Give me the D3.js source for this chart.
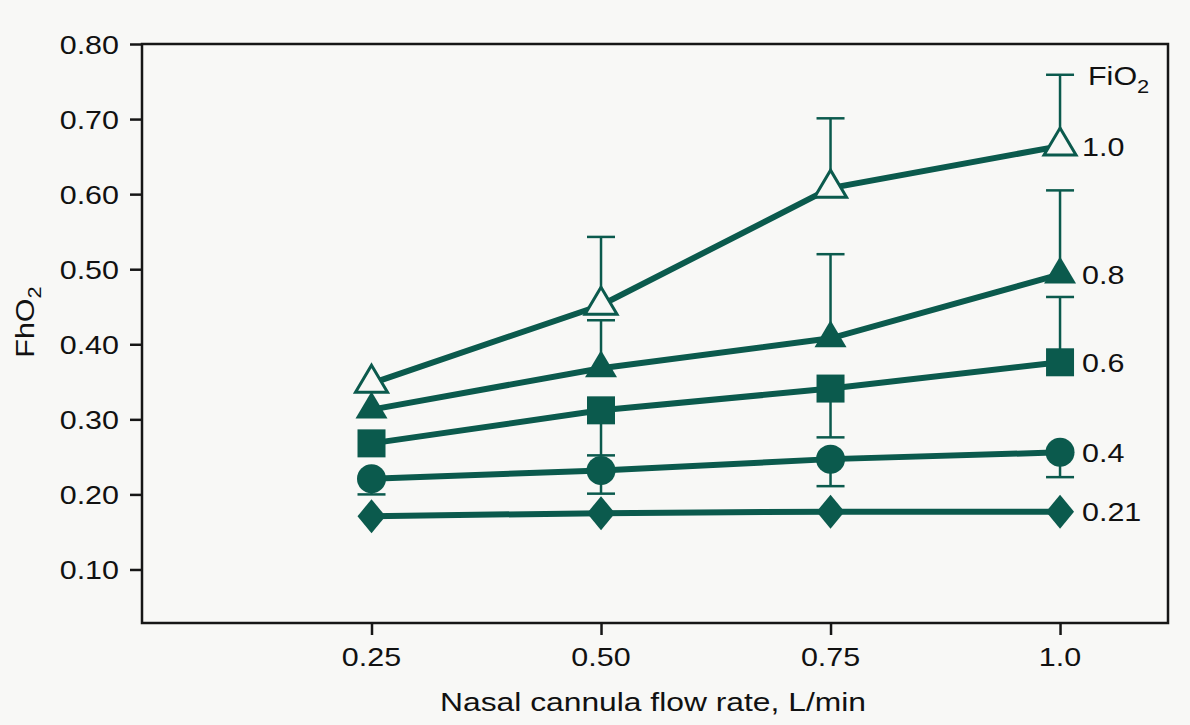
<!DOCTYPE html>
<html><head><meta charset="utf-8">
<script src="https://cdn.jsdelivr.net/npm/d3@7"></script>
<style>
html,body{margin:0;padding:0;background:#f8f8f6;}
svg{display:block;}
text{font-family:"Liberation Sans",Arial,Helvetica,sans-serif;fill:#111;}
</style></head>
<body>
<script>
const flowRates = [0.25, 0.50, 0.75, 1.0];
const xTickLabels = ["0.25", "0.50", "0.75", "1.0"];
const yTicks = [0.10, 0.20, 0.30, 0.40, 0.50, 0.60, 0.70, 0.80];
const seriesNames = ["1.0", "0.8", "0.6", "0.4", "0.21"];
const fio2_100 = [0.348, 0.452, 0.608, 0.664];
const fio2_80 = [0.313, 0.368, 0.408, 0.493];
const fio2_60 = [0.268, 0.312, 0.341, 0.376];
const fio2_40 = [0.221, 0.232, 0.247, 0.256];
const fio2_21 = [0.171, 0.175, 0.177, 0.177];
// error bar ends (null = none)
const err_100 = [null, 0.543, 0.701, 0.759];
const err_80 = [null, 0.432, 0.520, 0.605];
const err_60 = [null, 0.252, 0.276, 0.463];
const err_40 = [0.200, 0.201, 0.211, 0.223];
const err_21 = [null, null, null, null];

const W = 1190, H = 725;
const color = "#0b5a4d";
const FS = 26.5;
const svg = d3.select("body").append("svg").attr("width", W).attr("height", H);

const x = d3.scaleLinear().domain([0, 1.1176]).range([142, 1168]);
const y = d3.scaleLinear().domain([0.0287, 0.80]).range([623, 44]);

function txt(g, str, tx, ty, anchor, sx) {
  return g.append("text")
    .attr("transform", `translate(${tx},${ty}) scale(${sx || 1.15},1)`)
    .attr("text-anchor", anchor || "start")
    .style("font-size", FS + "px")
    .text(str);
}

// frame
const axisColor = "#161616";
svg.append("rect").attr("x", x(0)).attr("y", y(0.80))
  .attr("width", x(1.1176) - x(0)).attr("height", y(0.0287) - y(0.80))
  .attr("fill", "none").attr("stroke", axisColor).attr("stroke-width", 2.5);

// y axis
const yAxis = d3.axisLeft(y).tickValues(yTicks).tickSize(12).tickFormat(d3.format(".2f"));
const gy = svg.append("g").attr("transform", `translate(${x(0)},0)`).call(yAxis);
gy.select(".domain").remove();
gy.selectAll(".tick line").attr("stroke", axisColor).attr("stroke-width", 2.5);
gy.selectAll(".tick text").remove();
yTicks.forEach(v => {
  txt(svg, d3.format(".2f")(v), 119, y(v) + 9.5, "end");
});

// x axis
const xAxis = d3.axisBottom(x).tickValues(flowRates).tickSize(12).tickFormat("");
const gx = svg.append("g").attr("transform", `translate(0,${y(0.0287)})`).call(xAxis);
gx.select(".domain").remove();
gx.selectAll(".tick line").attr("stroke", axisColor).attr("stroke-width", 2.5);
flowRates.forEach((v, i) => {
  txt(svg, xTickLabels[i], x(v), 666, "middle");
});

// axis titles
txt(svg, "Nasal cannula flow rate, L/min", 653, 711, "middle", 1.2);
const yt = svg.append("text")
  .attr("transform", `translate(34,322) rotate(-90) scale(1.15,1)`)
  .attr("text-anchor", "middle")
  .style("font-size", FS + "px");
yt.append("tspan").text("FhO");
yt.append("tspan").attr("dy", 7).style("font-size", "19px").text("2");

// data
const series = [
  {name: seriesNames[0], vals: fio2_100, err: err_100, shape: "tri", open: true},
  {name: seriesNames[1], vals: fio2_80, err: err_80, shape: "tri", open: false},
  {name: seriesNames[2], vals: fio2_60, err: err_60, shape: "sq", open: false},
  {name: seriesNames[3], vals: fio2_40, err: err_40, shape: "circ", open: false},
  {name: seriesNames[4], vals: fio2_21, err: err_21, shape: "dia", open: false}
];

const line = d3.line().x((d, i) => x(flowRates[i])).y(d => y(d));

const triType = {draw(ctx, s) { ctx.moveTo(0, -17); ctx.lineTo(16, 10); ctx.lineTo(-16, 10); ctx.closePath(); }};
const sqType = {draw(ctx, s) { ctx.rect(-14, -14, 28, 28); }};
const circType = {draw(ctx, s) { ctx.arc(0, 0, 14.5, 0, 2 * Math.PI); }};
const diaType = {draw(ctx, s) { ctx.moveTo(0, -17); ctx.lineTo(14, 0); ctx.lineTo(0, 17); ctx.lineTo(-14, 0); ctx.closePath(); }};
const types = {tri: triType, sq: sqType, circ: circType, dia: diaType};

// error bars first
series.forEach(s => {
  s.err.forEach((e, i) => {
    if (e === null) return;
    const cx = x(flowRates[i]);
    svg.append("line").attr("x1", cx).attr("x2", cx)
      .attr("y1", y(s.vals[i])).attr("y2", y(e))
      .attr("stroke", color).attr("stroke-width", 2.5);
    svg.append("line").attr("x1", cx - 14).attr("x2", cx + 14)
      .attr("y1", y(e)).attr("y2", y(e))
      .attr("stroke", color).attr("stroke-width", 2.5);
  });
});

series.slice().reverse().forEach(s => {
  svg.append("path").datum(s.vals).attr("d", line)
    .attr("fill", "none").attr("stroke", color).attr("stroke-width", 6);
  s.vals.forEach((v, i) => {
    svg.append("path")
      .attr("d", d3.symbol().type(types[s.shape])())
      .attr("transform", `translate(${x(flowRates[i])},${y(v) + (s.shape === "tri" ? -1 : 0)})`)
      .attr("fill", s.open ? "#f8f8f6" : color)
      .attr("stroke", color).attr("stroke-width", s.open ? 3 : 0);
  });
  txt(svg, s.name, 1082, y(s.vals[3]) + 9.5, "start");
});

// legend title
const lt = svg.append("text")
  .attr("transform", `translate(1088,85) scale(1.15,1)`)
  .style("font-size", FS + "px");
lt.append("tspan").text("FiO");
lt.append("tspan").attr("dy", 8).style("font-size", "19px").text("2");
</script>
</body></html>
